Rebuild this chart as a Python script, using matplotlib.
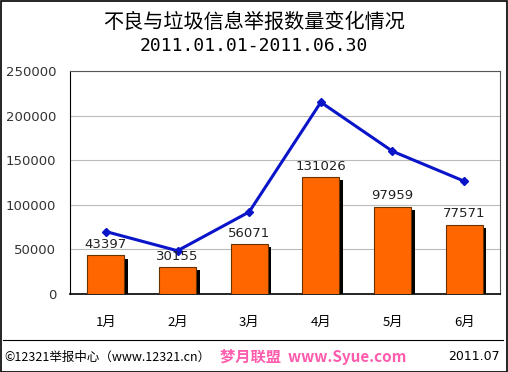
import matplotlib.pyplot as plt
from matplotlib.patches import Rectangle
from matplotlib.lines import Line2D

plt.rcParams['font.family'] = ['Noto Sans CJK SC', 'DejaVu Sans']

months = ["1月", "2月", "3月", "4月", "5月", "6月"]
reports = [43397, 30155, 56071, 131026, 97959, 77571]
trend = [70000, 48500, 92000, 215000, 160000, 126500]
yticks = [0, 50000, 100000, 150000, 200000, 250000]

fig = plt.figure(figsize=(5.08, 3.72), dpi=100)
ax = fig.add_axes([70 / 508, 1 - 294 / 372, 430 / 508, 223 / 372])

x = range(len(months))
w = 0.52
# black shadow behind the bars
ax.bar([i + 0.05 for i in x], [v - 1800 for v in reports], width=w, bottom=-1800,
       color="black", zorder=2)
ax.bar(x, reports, width=w, color="#ff6600", edgecolor="#663300", linewidth=0.8, zorder=3)
for i, v in zip(x, reports):
    ax.text(i, v + 5000, str(v), ha="center", va="bottom", fontsize=9.5,
            family="DejaVu Sans", color="#222222", zorder=5)

ax.plot(x, trend, color="#0a14c8", linewidth=2.2, marker="D", markersize=4.5, zorder=4)

ax.set_xlim(-0.5, 5.5)
ax.set_ylim(0, 250000)
ax.set_yticks(yticks)
ax.set_yticklabels([str(t) for t in yticks], family="DejaVu Sans", fontsize=9.5, color="#333333")
ax.set_xticks(list(x))
ax.set_xticklabels(months, fontsize=9.5)
ax.tick_params(length=0, pad=10)
ax.tick_params(axis="x", pad=16)
ax.grid(axis="y", color="#bbbbbb", linewidth=0.8, zorder=0)
for s in ax.spines.values():
    s.set_color("#555555")
    s.set_linewidth(0.8)
ax.spines["left"].set_color("black")
ax.spines["bottom"].set_color("black")
ax.spines["bottom"].set_linewidth(1.2)

fig.text(0.5, 1 - 22 / 372, "不良与垃圾信息举报数量变化情况", ha="center", va="center", fontsize=14.5)
fig.text(0.5, 1 - 46 / 372, "2011.01.01-2011.06.30", ha="center", va="center",
         fontsize=13, family="DejaVu Sans Mono")

# outer frame and footer rule
fig.patches.append(Rectangle((0.5 / 508, 0), 506.5 / 508, 0.998, transform=fig.transFigure,
                             fill=False, edgecolor="black", linewidth=1.2))
fig.lines.append(Line2D([3 / 508, 503 / 508], [1 - 340 / 372] * 2, transform=fig.transFigure,
                        color="black", linewidth=0.8))
fig.text(4 / 508, 1 - 357 / 372, "©12321举报中心（www.12321.cn）", ha="left", va="center", fontsize=9)
fig.text(500 / 508, 1 - 357 / 372, "2011.07", ha="right", va="center", fontsize=9,
         family="DejaVu Sans")
fig.text(220 / 508, 1 - 357 / 372, "梦月联盟  www.Syue.com", ha="left", va="center",
         fontsize=11, color="#ff3399", alpha=0.8, fontweight="bold")

fig.savefig("out.png", dpi=100)
